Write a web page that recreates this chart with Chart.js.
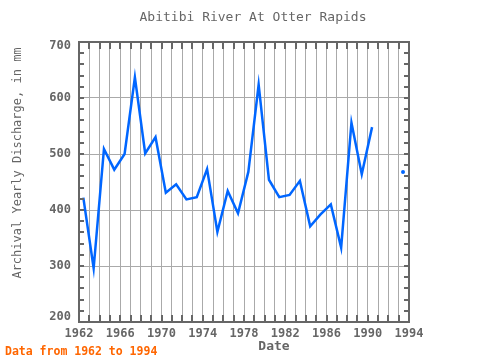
<!DOCTYPE html>
<html>
<head>
<meta charset="utf-8">
<script src="https://cdn.jsdelivr.net/npm/chart.js@4/dist/chart.umd.min.js"></script>
<style>
html,body{margin:0;padding:0;background:#fff;}
#wrap{width:480px;height:360px;position:relative;}
</style>
</head>
<body>
<div id="wrap"><canvas id="c" width="480" height="360"></canvas></div>
<script>
// ---- data ----
const years = [1962,1963,1964,1965,1966,1967,1968,1969,1970,1971,1972,1973,1974,1975,1976,1977,1978,1979,1980,1981,1982,1983,1984,1985,1986,1987,1988,1989,1990,1991,1992,1993];
const discharge = [422,296,509,472,500,637,501,530,431,446,419,423,473,361,434,394,468,624,454,423,427,452,371,392,410,333,556,464,548,null,null,468];
const xTickLabels = ['1962','1966','1970','1974','1978','1982','1986','1990','1994'];
const yTickLabels = ['200','300','400','500','600','700'];
const titleText = 'Abitibi River At Otter Rapids';
const xTitle = 'Date';
const yTitle = 'Archival Yearly Discharge, in mm';
const footText = 'Data from 1962 to 1994';

// plotting convention: yearly values drawn slightly after the year start
const X_OFFSET = 0.42;

const points = years.map((y, i) => ({x: y + X_OFFSET, y: discharge[i]}));

const FONT = '"DejaVu Sans Mono", monospace';
const TXT = '#666666';

const decor = {
  id: 'decor',
  afterDraw(chart) {
    const ctx = chart.ctx;
    const a = chart.chartArea;
    const xs = chart.scales.x, ys = chart.scales.y;
    ctx.save();
    ctx.strokeStyle = '#666666';
    ctx.lineWidth = 2;
    ctx.beginPath();
    for (let yr = 1962; yr <= 1994; yr++) {
      const px = Math.round(xs.getPixelForValue(yr));
      ctx.moveTo(px, a.bottom); ctx.lineTo(px, a.bottom - 7);
      ctx.moveTo(px, a.top); ctx.lineTo(px, a.top + 7);
    }
    for (let v = 200; v <= 700; v += 20) {
      const py = Math.round(ys.getPixelForValue(v));
      ctx.moveTo(a.left, py); ctx.lineTo(a.left + 5, py);
      ctx.moveTo(a.right, py); ctx.lineTo(a.right - 5, py);
    }
    ctx.stroke();
    ctx.strokeRect(a.left, a.top, a.right - a.left, a.bottom - a.top);

    ctx.fillStyle = TXT;
    ctx.textBaseline = 'middle';
    // y tick labels, kept inside the plot's vertical span
    ctx.textAlign = 'right';
    ctx.font = 'bold 12px ' + FONT;
    yTickLabels.forEach((t) => {
      let py = ys.getPixelForValue(Number(t));
      py = Math.min(Math.max(py, a.top + 4), a.bottom - 5);
      ctx.fillText(t, a.left - 8, py);
    });

    ctx.textAlign = 'center';
    ctx.font = '13px ' + FONT;
    ctx.fillText(titleText, 253, 18);
    ctx.font = 'bold 13px ' + FONT;
    ctx.fillText(xTitle, 274, 347);
    ctx.save();
    ctx.translate(17.5, 163);
    ctx.rotate(-Math.PI / 2);
    ctx.font = '12px ' + FONT;
    ctx.fillText(yTitle, 0, 0);
    ctx.restore();
    ctx.textAlign = 'left';
    ctx.fillStyle = '#ff6600';
    ctx.font = 'bold 11.5px ' + FONT;
    ctx.fillText(footText, 5, 352);
    ctx.restore();
  }
};

new Chart(document.getElementById('c'), {
  type: 'line',
  data: {
    datasets: [{
      data: points,
      borderColor: '#0066ff',
      backgroundColor: '#0066ff',
      borderWidth: 2.5,
      tension: 0,
      spanGaps: false,
      pointRadius: (c) => {
        const i = c.dataIndex;
        const prev = discharge[i - 1], next = discharge[i + 1];
        return (discharge[i] != null && prev == null && next == null) ? 2 : 0;
      },
      pointBorderWidth: 0,
      pointHoverRadius: 0
    }]
  },
  plugins: [decor],
  options: {
    responsive: false,
    animation: false,
    events: [],
    layout: {padding: {left: 0, right: 71, top: 42, bottom: 0}},
    plugins: {legend: {display: false}, title: {display: false}, tooltip: {enabled: false}},
    scales: {
      x: {
        type: 'linear',
        min: 1962, max: 1994,
        afterFit: (s) => { s.height = 38; },
        border: {display: false},
        grid: {color: '#aaaaaa', lineWidth: 1, drawTicks: false},
        ticks: {
          stepSize: 1, autoSkip: false, maxRotation: 0, minRotation: 0, padding: 5,
          color: TXT, font: {family: FONT, size: 12, weight: 'bold'},
          callback: (v) => xTickLabels.includes(String(v)) ? String(v) : ''
        }
      },
      y: {
        min: 200, max: 700,
        afterFit: (s) => { s.width = 79; },
        border: {display: false},
        grid: {
          drawTicks: false, lineWidth: 1,
          color: (c) => (c.tick && yTickLabels.includes(String(c.tick.value))) ? '#aaaaaa' : 'rgba(0,0,0,0)'
        },
        ticks: {
          stepSize: 20, autoSkip: false, padding: 8, display: false
        }
      }
    }
  }
});
</script>
</body>
</html>
